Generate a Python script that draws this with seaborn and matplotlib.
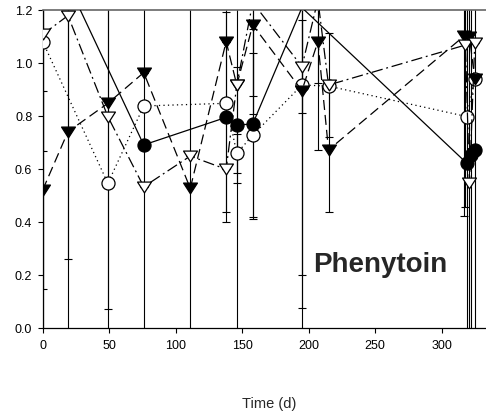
import numpy as np
import pandas as pd
import matplotlib
matplotlib.use("Agg")
import matplotlib.pyplot as plt
from matplotlib.path import Path
import seaborn as sns

# ---------------- data ----------------
# open circles, dotted line
oc_t = [0, 49, 76, 138, 146, 158, 195, 215, 319, 325]
oc_v = [1.082, 0.547, 0.839, 0.849, 0.660, 0.729, 0.918, 0.914, 0.799, 0.940]
oc_e = [1.20, 0.0, 0.0, 0.41, 0.075, 0.31, 0.717, 0.0, 0.0, 0.0]

# filled circles, solid line
fc_t = [19, 76, 138, 146, 158, 195, 319, 322, 325]
fc_v = [1.300, 0.692, 0.796, 0.767, 0.771, 1.210, 0.623, 0.655, 0.673]
fc_e = [0.0, 0.80, 0.396, 0.22, 0.36, 1.30, 0.90, 0.90, 0.90]

# filled down-triangles, long-dash line
ft_t = [0, 19, 49, 76, 111, 138, 146, 158, 195, 207, 215, 317, 321, 325]
ft_v = [0.522, 0.742, 0.849, 0.965, 0.528, 1.082, 0.918, 1.145, 0.897, 1.082, 0.673, 1.103, 1.100, 0.940]
ft_e = [0.375, 0.48, 0.90, 0.0, 0.70, 0.0, 0.0, 0.27, 0.82, 0.41, 0.233, 0.68, 0.0, 0.0]

# open down-triangles, dash-dot line
ot_t = [0, 19, 49, 76, 111, 138, 146, 158, 195, 207, 215, 318, 321, 325]
ot_v = [1.109, 1.180, 0.799, 0.534, 0.650, 0.600, 0.918, 1.230, 0.987, 1.240, 0.918, 1.069, 0.547, 1.076]
ot_e = [0.44, 1.30, 0.726, 0.0, 0.0, 0.0, 1.00, 0.42, 0.176, 0.315, 0.195, 0.61, 0.70, 0.0]

x_ticks = [0, 50, 100, 150, 200, 250, 300]
y_ticks = [0.0, 0.2, 0.4, 0.6, 0.8, 1.0, 1.2]
x_label = "Time (d)"
panel_label = "Phenytoin"

# ---------------- styling ----------------
sns.set_style("ticks")
plt.rcParams["font.family"] = ["Liberation Sans", "DejaVu Sans"]

W, H = 486, 417
fig = plt.figure(figsize=(W / 100, H / 100), dpi=100)
x0, x1 = 42.7, 494.7
y0, y1 = 328.3, 10.3
ax = fig.add_axes([x0 / W, (H - y0) / H, (x1 - x0) / W, (y0 - y1) / H])

YMAX = 1.2
tri = Path([(-1.0, 0.78), (1.0, 0.78), (0.0, -0.78), (-1.0, 0.78)],
           [Path.MOVETO, Path.LINETO, Path.LINETO, Path.CLOSEPOLY])

series = [
    (oc_t, oc_v, oc_e, "o", "white", (0, (1.0, 2.6)), 9.4),
    (fc_t, fc_v, fc_e, "o", "black", "-", 9.4),
    (ft_t, ft_v, ft_e, tri, "black", (0, (8, 4)), 10.0),
    (ot_t, ot_v, ot_e, tri, "white", (0, (9, 3, 1.5, 3)), 10.0),
]

# error bars first (behind everything)
for t, v, e, *_ in series:
    ax.errorbar(t, v, yerr=e, fmt="none", ecolor="black", elinewidth=0.8,
                capsize=3, capthick=0.8, zorder=1)

for i, (t, v, e, m, fcol, ls, ms) in enumerate(series):
    df = pd.DataFrame({"t": t, "v": v})
    shown = [bool(val <= YMAX) for val in v]   # out-of-range symbols not drawn
    sns.lineplot(data=df, x="t", y="v", ax=ax, color="black", linestyle=ls,
                 lw=0.9, marker=m, markersize=ms, markerfacecolor=fcol,
                 markeredgecolor="black", markeredgewidth=0.9,
                 markevery=shown, errorbar=None, sort=False, zorder=3 + i)

ax.set_xlim(0, 340)
ax.set_ylim(0, YMAX)
ax.set_xticks(x_ticks)
ax.set_xticklabels([str(x) for x in x_ticks])
ax.set_yticks(y_ticks)
ax.set_yticklabels([f"{y:.1f}" for y in y_ticks])
ax.tick_params(direction="out", length=3.5, width=0.8, labelsize=9,
               colors="black")
ax.tick_params(axis="y", pad=4)
ax.tick_params(axis="x", pad=5)

for s in ["left", "bottom"]:
    ax.spines[s].set_color("black")
    ax.spines[s].set_linewidth(0.9)
ax.spines["top"].set_color("#666666")
ax.spines["top"].set_linewidth(1.2)
ax.spines["right"].set_visible(False)

ax.set_ylabel("")
ax.set_xlabel(x_label, fontsize=10.5, va="center")
ax.xaxis.set_label_coords((268.7 - x0) / (x1 - x0), (y0 - 404) / (y0 - y1))

ax.text(203.4, 0.214, panel_label, fontsize=20, fontweight="bold",
        ha="left", va="baseline", zorder=10)

fig.savefig("out.png", dpi=100)
